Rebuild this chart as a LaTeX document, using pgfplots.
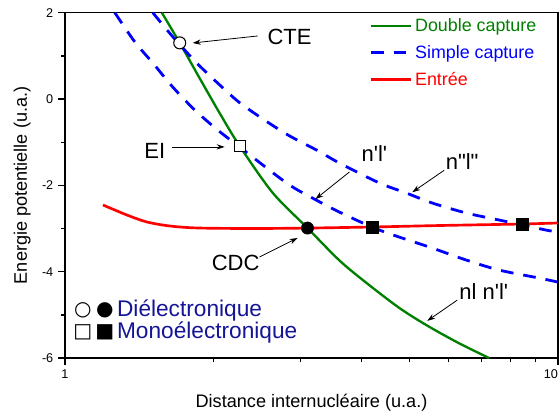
\documentclass[border=0pt]{standalone}
\usepackage{fontspec}
\setmainfont{Liberation Sans}
\newfontfamily\symfont{DejaVu Sans}
\usepackage{pgfplots}
\pgfplotsset{compat=1.18}
\usetikzlibrary{arrows.meta}
\definecolor{dcgreen}{RGB}{0,128,0}
\definecolor{scblue}{RGB}{0,0,255}
\definecolor{inred}{RGB}{255,0,0}
\definecolor{navytext}{RGB}{20,20,150}

\begin{document}
\begin{tikzpicture}
\begin{axis}[
  name=ax,
  scale only axis,
  width=369.75pt, height=259pt,
  xmode=log,
  xmin=1, xmax=10, ymin=-6, ymax=2,
  xtick={1,10}, xticklabels={1,\makebox[0pt][r]{10}},
  minor xtick={2,3,4,5,6,7,8,9},
  ytick={-6,-4,-2,0,2}, yticklabels={-6,-4,-2,0,2},
  minor ytick={-5,-3,-1,1},
  tick align=outside,
  xtick pos=left, ytick pos=left,
  major tick length=5.25pt, minor tick length=3pt,
  tick style={black, line width=1pt},
  axis line style={line width=1.2pt},
  tick label style={font=\fontsize{9.5}{11}\selectfont},
  /pgf/number format/assume math mode=true,
  xlabel={Distance internucléaire (u.a.)},
  ylabel={Energie potentielle (u.a.)},
  label style={font=\fontsize{13.6}{16}\selectfont},
  xlabel style={at={(axis description cs:0.5,-0.13)}, anchor=center},
  ylabel style={at={(axis description cs:-0.087,0.5)}, anchor=center},
  legend style={at={(axis description cs:0.612,1)}, anchor=north west,
    draw=none, fill=none, font=\fontsize{13.4}{15}\selectfont,
    row sep=5pt, inner sep=2pt},
  legend cell align=left,
  legend image code/.code={\draw[#1] (0pt,0pt) -- (30pt,0pt);},
]

%% double capture
\addplot[dcgreen, line width=1.75pt, smooth] coordinates {
  (1.572,2.0) (1.709,1.30) (1.876,0.48) (2.06,-0.33) (2.261,-1.09)
  (2.637,-2.17) (3.104,-2.99) (3.603,-3.74) (4.087,-4.26) (4.765,-4.84)
  (5.43,-5.25) (6.303,-5.66) (7.25,-6.0)
};
\addlegendentry{\textcolor{dcgreen}{Double capture}}

%% simple capture n''l''
\addplot[scblue, line width=2.1pt, dash pattern=on 9.5pt off 7.5pt, smooth] coordinates {
  (1.507,2.0) (1.654,1.444) (1.850,0.835) (2.060,0.325) (2.293,-0.139)
  (2.789,-0.788) (3.237,-1.182) (3.603,-1.483) (4.342,-1.946) (4.924,-2.178)
  (5.559,-2.410) (6.514,-2.641) (7.597,-2.804) (9.456,-3.036) (10,-3.082)
};
\addlegendentry{\textcolor{scblue}{Simple capture}}

%% entree
\addplot[inred, line width=2pt, smooth] coordinates {
  (1.194,-2.455) (1.335,-2.687) (1.466,-2.849) (1.632,-2.942) (1.859,-2.988)
  (2.4,-3.0) (3.104,-2.99) (4.204,-2.965) (5.8,-2.93) (8.456,-2.896) (10,-2.872)
};
\addlegendentry{\textcolor{inred}{Entrée}}

%% simple capture n'l'
\addplot[scblue, line width=2.1pt, dash pattern=on 9.5pt off 7.5pt, smooth, forget plot] coordinates {
  (1.262,2.0) (1.386,1.32) (1.507,0.835) (1.654,0.278) (1.833,-0.254)
  (2.040,-0.718) (2.261,-1.112) (2.815,-1.946) (3.177,-2.294) (3.603,-2.619)
  (4.342,-3.036) (5.559,-3.453) (6.514,-3.731) (7.597,-3.963) (9.152,-4.148) (10,-4.241)
};

%% points
\addplot[only marks, mark=*, mark size=4.5pt, mark options={fill=white, draw=black, line width=0.8pt}, forget plot]
  coordinates {(1.709,1.30)};
\addplot[only marks, mark=square*, mark size=4.2pt, mark options={fill=white, draw=black, line width=0.8pt}, forget plot]
  coordinates {(2.261,-1.09)};
\addplot[only marks, mark=*, mark size=4.6pt, mark options={fill=black, draw=black}, forget plot]
  coordinates {(3.104,-2.99)};
\addplot[only marks, mark=square*, mark size=4.6pt, mark options={fill=black, draw=black}, forget plot]
  coordinates {(4.204,-2.965) (8.456,-2.90)};

%% annotations
\tikzset{ann/.style={font=\fontsize{16.5}{19}\selectfont},
  arr/.style={-{Stealth[length=6pt,width=4pt]}, line width=0.6pt}}
\node[ann] at (axis cs:2.855,1.437) {CTE};
\draw[arr] (axis cs:2.459,1.46) -- (axis cs:1.816,1.298);
\node[ann] at (axis cs:1.521,-1.2) {EI};
\draw[arr] (axis cs:1.647,-1.11) -- (axis cs:2.108,-1.11);
\node[ann] at (axis cs:2.219,-3.80) {CDC};
\draw[arr] (axis cs:2.481,-3.66) -- (axis cs:2.963,-3.22);
\node[ann] at (axis cs:4.243,-1.27) {n\textquotesingle l\textquotesingle};
\draw[arr] (axis cs:3.776,-1.69) -- (axis cs:3.221,-2.32);
\node[ann] at (axis cs:6.393,-1.46) {n\textquotedbl l\textquotedbl};
\draw[arr] (axis cs:5.878,-1.65) -- (axis cs:5.064,-2.16);
\node[ann, anchor=west, inner sep=0pt] at (axis cs:6.304,-4.47) {nl n\textquotesingle l\textquotesingle};
\draw[arr] (axis cs:6.245,-4.66) -- (axis cs:5.43,-5.14);

%% marker key
\node[font=\symfont\fontsize{15}{17}\selectfont] at (axis cs:1.087,-4.89) {○};
\node[font=\symfont\fontsize{15}{17}\selectfont] at (axis cs:1.205,-4.89) {●};
\node[font=\symfont\fontsize{15}{17}\selectfont] at (axis cs:1.087,-5.40) {□};
\node[font=\symfont\fontsize{15}{17}\selectfont] at (axis cs:1.205,-5.40) {■};
\node[anchor=west, inner sep=0pt, text=navytext, font=\fontsize{17}{20}\selectfont] at (axis cs:1.274,-4.89) {Diélectronique};
\node[anchor=west, inner sep=0pt, text=navytext, font=\fontsize{17}{20}\selectfont] at (axis cs:1.274,-5.40) {Monoélectronique};
\end{axis}
\pgfresetboundingbox
\path ([xshift=-48.75pt,yshift=-42pt]ax.south west) rectangle ([xshift=1.5pt,yshift=9.5pt]ax.north east);
\end{tikzpicture}
\end{document}
